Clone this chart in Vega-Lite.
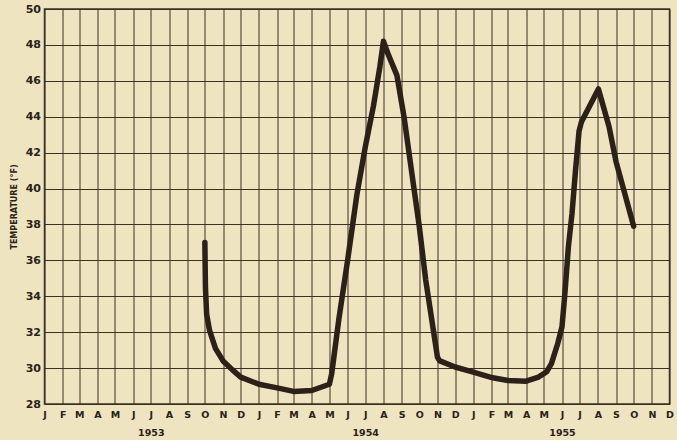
{
  "$schema": "https://vega.github.io/schema/vega-lite/v6.json",
  "width": 625,
  "height": 395,
  "autosize": {"type": "none"},
  "padding": {"left": 44.5, "top": 9, "right": 7.5, "bottom": 36},
  "background": "#efe4c0",
  "config": {
    "font": "DejaVu Sans",
    "view": {"stroke": "#3a3124", "strokeWidth": 1.5}
  },
  "data": {
    "values": [
      {"date": "1953-10-01", "temperature": 37.0},
      {"date": "1953-10-02", "temperature": 34.5},
      {"date": "1953-10-04", "temperature": 33.0},
      {"date": "1953-10-09", "temperature": 32.1},
      {"date": "1953-10-19", "temperature": 31.1},
      {"date": "1953-11-01", "temperature": 30.4},
      {"date": "1953-11-17", "temperature": 29.9},
      {"date": "1953-12-01", "temperature": 29.5},
      {"date": "1954-01-01", "temperature": 29.1},
      {"date": "1954-02-01", "temperature": 28.9},
      {"date": "1954-03-01", "temperature": 28.7},
      {"date": "1954-04-01", "temperature": 28.75},
      {"date": "1954-05-01", "temperature": 29.1},
      {"date": "1954-05-05", "temperature": 29.7},
      {"date": "1954-05-17", "temperature": 32.7},
      {"date": "1954-06-01", "temperature": 36.0},
      {"date": "1954-06-17", "temperature": 39.7},
      {"date": "1954-07-01", "temperature": 42.3},
      {"date": "1954-07-15", "temperature": 44.6},
      {"date": "1954-07-26", "temperature": 46.8},
      {"date": "1954-08-01", "temperature": 48.2},
      {"date": "1954-08-10", "temperature": 47.4},
      {"date": "1954-08-24", "temperature": 46.3},
      {"date": "1954-09-05", "temperature": 44.0},
      {"date": "1954-09-19", "temperature": 40.7},
      {"date": "1954-10-01", "temperature": 37.9},
      {"date": "1954-10-12", "temperature": 34.9},
      {"date": "1954-10-26", "temperature": 31.9},
      {"date": "1954-11-01", "temperature": 30.6},
      {"date": "1954-11-05", "temperature": 30.4},
      {"date": "1954-12-01", "temperature": 30.06},
      {"date": "1955-01-01", "temperature": 29.78},
      {"date": "1955-02-03", "temperature": 29.46},
      {"date": "1955-03-01", "temperature": 29.31},
      {"date": "1955-04-01", "temperature": 29.27},
      {"date": "1955-04-22", "temperature": 29.5},
      {"date": "1955-05-06", "temperature": 29.8},
      {"date": "1955-05-14", "temperature": 30.25},
      {"date": "1955-05-25", "temperature": 31.4},
      {"date": "1955-06-01", "temperature": 32.3},
      {"date": "1955-06-06", "temperature": 34.2},
      {"date": "1955-06-12", "temperature": 36.8},
      {"date": "1955-06-18", "temperature": 38.6},
      {"date": "1955-06-24", "temperature": 41.0},
      {"date": "1955-06-30", "temperature": 43.2},
      {"date": "1955-07-04", "temperature": 43.7},
      {"date": "1955-08-02", "temperature": 45.55},
      {"date": "1955-08-20", "temperature": 43.46},
      {"date": "1955-09-01", "temperature": 41.5},
      {"date": "1955-10-01", "temperature": 37.9}
    ]
  },
  "mark": {
    "type": "line",
    "color": "#2b2119",
    "strokeWidth": 5.5,
    "strokeCap": "round",
    "strokeJoin": "round",
    "interpolate": "linear"
  },
  "encoding": {
    "x": {
      "field": "date",
      "type": "temporal",
      "scale": {
        "type": "utc",
        "nice": false,
        "domain": [
          {"year": 1953, "month": 1, "date": 1, "utc": true},
          {"year": 1955, "month": 12, "date": 1, "utc": true}
        ]
      },
      "axis": {
        "title": null,
        "tickCount": {"interval": "month", "step": 1},
        "grid": true,
        "gridColor": "#3a3124",
        "gridWidth": 1,
        "gridOpacity": 1,
        "ticks": false,
        "tickSize": 0,
        "domain": false,
        "labelExpr": "(utcFormat(datum.value,'%Y-%m') == '1953-07' || utcFormat(datum.value,'%Y-%m') == '1954-07' || utcFormat(datum.value,'%Y-%m') == '1955-06') ? [substring(utcFormat(datum.value,'%b'),0,1), utcFormat(datum.value,'%Y')] : substring(utcFormat(datum.value,'%b'),0,1)",
        "labelFont": "DejaVu Sans",
        "labelFontWeight": "bold",
        "labelFontSize": 9.5,
        "labelColor": "#2a2118",
        "labelPadding": 5.5,
        "labelLineHeight": 17.5,
        "labelBaseline": "top",
        "labelAlign": "center",
        "labelOverlap": false,
        "labelFlush": false
      }
    },
    "y": {
      "field": "temperature",
      "type": "quantitative",
      "scale": {"domain": [28, 50], "nice": false, "zero": false},
      "axis": {
        "title": "TEMPERATURE (°F)",
        "titleFont": "DejaVu Sans",
        "titleFontWeight": "bold",
        "titleFontSize": 8,
        "titleColor": "#2a2118",
        "titlePadding": 7,
        "values": [28, 30, 32, 34, 36, 38, 40, 42, 44, 46, 48, 50],
        "grid": true,
        "gridColor": "#3a3124",
        "gridWidth": 1,
        "gridOpacity": 1,
        "ticks": false,
        "tickSize": 0,
        "domain": false,
        "labelFont": "DejaVu Sans",
        "labelFontWeight": "bold",
        "labelFontSize": 11,
        "labelColor": "#2a2118",
        "labelPadding": 4,
        "labelOverlap": false
      }
    }
  }
}
